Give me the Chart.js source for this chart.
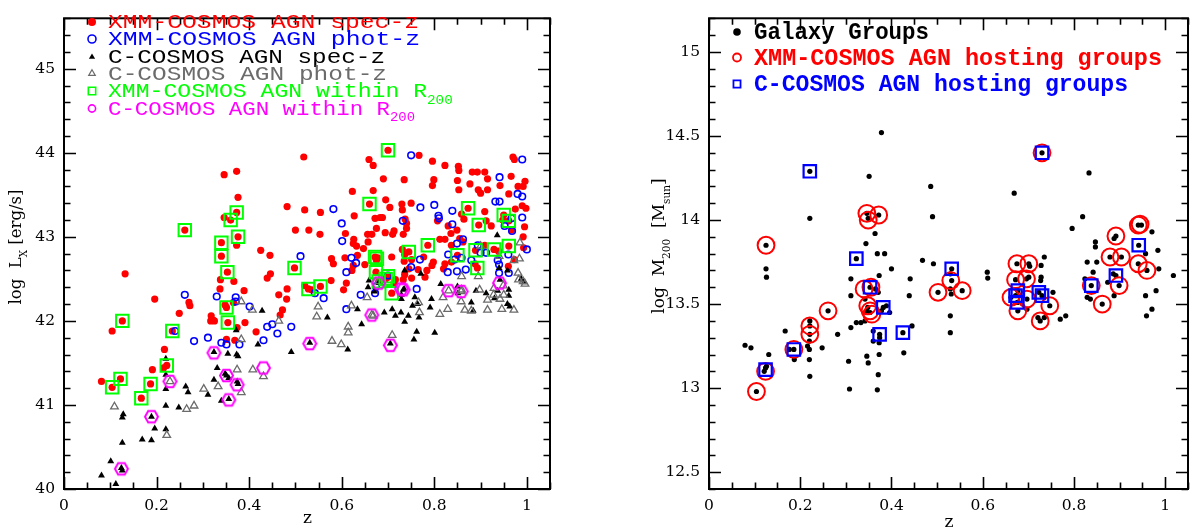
<!DOCTYPE html>
<html>
<head>
<meta charset="utf-8">
<script src="https://cdn.jsdelivr.net/npm/chart.js@4.4.1/dist/chart.umd.min.js"></script>
<style>
  html, body { margin: 0; padding: 0; background: #fff; }
  #wrap { position: relative; width: 1199px; height: 529px; overflow: hidden; }
  .box { position: absolute; top: 0; height: 529px; }
  #b1 { left: 0; width: 600px; }
  #b2 { left: 600px; width: 599px; }
</style>
</head>
<body>
<div id="wrap">
  <div class="box" id="b1"><canvas id="c1"></canvas></div>
  <div class="box" id="b2"><canvas id="c2"></canvas></div>
</div>
<script>
// painel esquerdo: z x log Lx  |  painel direito: z x log M200
const zTicks = [0, 0.2, 0.4, 0.6, 0.8, 1]
const lxTicks = [40, 41, 42, 43, 44, 45]
const mTicks = [12.5, 13, 13.5, 14, 14.5, 15]

const legendLeft = ['XMM-COSMOS AGN spec-z', 'XMM-COSMOS AGN phot-z', 'C-COSMOS AGN spec-z', 'C-COSMOS AGN phot-z', 'XMM-COSMOS AGN within R', 'C-COSMOS AGN within R']
const legendRight = ['Galaxy Groups', 'XMM-COSMOS AGN hosting groups', 'C-COSMOS AGN hosting groups']

// [z, log Lx]
const xmmSpecZ = [
  [0.518,43.95],[0.346,43.74],[0.373,43.78],[0.376,43.47],[0.373,43.29],[0.36,43.20],[0.346,43.23],[0.376,43.00],[0.373,42.90],
  [0.261,43.08],[0.34,42.93],[0.34,42.77],[0.353,42.58],[0.367,42.47],[0.338,42.49],[0.337,42.38],[0.132,42.56],
  [0.196,42.26],[0.27,42.22],[0.272,42.18],[0.249,42.09],[0.351,42.16],[0.348,42.19],[0.389,42.36],[0.366,42.22],
  [0.425,42.84],[0.445,42.78],[0.482,43.36],[0.52,43.32],[0.50,43.08],[0.446,42.56],[0.439,42.51],[0.498,42.63],
  [0.482,42.38],[0.464,42.31],[0.481,42.26],[0.472,42.13],[0.467,42.07],[0.529,43.08],[0.318,42.06],[0.322,42.01],
  [0.104,41.88],[0.126,42.00],[0.234,41.88],[0.217,41.66],[0.215,41.44],[0.222,41.47],[0.191,41.42],[0.122,41.31],
  [0.081,41.28],[0.104,41.21],[0.187,41.25],[0.167,41.08],[0.415,41.87],[0.351,41.78],[0.369,41.77],[0.317,42.0],
  [0.325,42.0],[0.354,41.98],[0.374,41.92],[0.391,41.98],
  [0.659,43.92],[0.668,43.85],[0.70,44.03],[0.767,43.97],[0.69,43.69],[0.735,43.68],[0.623,43.54],[0.668,43.55],
  [0.796,43.90],[0.799,43.68],[0.796,43.61],[0.823,43.85],[0.852,43.84],[0.853,43.79],[0.85,43.67],[0.882,43.77],
  [0.893,43.77],[0.909,43.77],[0.915,43.69],[0.877,43.63],[0.942,43.61],[0.966,43.72],[0.97,43.95],[0.973,43.92],
  [0.981,43.60],[0.996,43.66],[0.992,43.60],[0.961,43.51],[0.895,43.56],[0.90,43.52],[0.915,43.56],[0.853,43.56],
  [0.66,43.39],[0.695,43.44],[0.73,43.39],[0.75,43.40],[0.704,43.35],[0.731,43.32],[0.683,43.23],[0.672,43.22],
  [0.688,43.23],[0.675,43.10],[0.656,43.03],[0.627,43.25],[0.554,43.29],[0.553,43.03],[0.608,43.04],[0.626,42.97],
  [0.665,43.03],[0.657,42.94],[0.694,43.05],[0.713,43.07],[0.74,43.10],[0.737,43.21],[0.74,43.16],[0.71,43.03],
  [0.733,43.03],[0.632,42.89],[0.647,42.86],[0.625,42.92],[0.672,42.76],[0.678,42.75],[0.675,42.72],[0.708,42.76],
  [0.731,42.85],[0.736,42.79],[0.745,42.82],[0.735,42.71],[0.751,42.73],[0.777,42.76],[0.798,42.70],[0.786,42.90],
  [0.807,43.19],[0.812,42.97],[0.83,43.13],[0.836,43.04],[0.849,43.08],[0.873,43.34],[0.896,43.14],[0.859,43.27],
  [0.864,43.21],[0.909,43.30],[0.912,43.19],[0.923,43.13],[0.95,43.26],[0.961,43.19],[0.948,43.20],[0.967,43.08],
  [0.995,43.12],[0.992,43.00],[0.823,42.97],[0.837,42.90],[0.855,42.98],[0.862,42.94],[0.85,42.78],[0.889,42.84],
  [0.929,42.85],[0.961,42.89],[0.888,42.68],[0.893,42.63],[0.909,42.90],[0.939,42.83],[0.837,42.70],[0.823,42.68],
  [0.82,42.62],[0.795,42.66],[0.784,42.60],[0.78,42.52],[0.765,42.61],[0.745,42.62],[0.736,42.55],[0.733,42.49],
  [0.713,42.45],[0.70,42.52],[0.695,42.50],[0.674,42.58],[0.68,42.47],[0.65,42.67],[0.61,42.45],[0.604,42.37],
  [0.577,42.48],[0.554,42.41],[0.528,42.38],[0.52,42.42],[0.535,42.37],[0.578,42.74],[0.582,42.68],[0.607,42.75],
  [0.625,42.66],[0.622,42.60],[0.634,42.78],[0.708,42.33],[0.716,42.49],[0.751,42.51],[0.975,43.33],[0.99,43.37],
  [0.998,43.34],[0.993,42.87],[0.973,42.73],[0.96,42.65]
]
const xmmPhotZ = [
  [0.75,43.97],[0.99,43.92],[0.941,43.71],[0.932,43.42],[0.941,43.42],[0.98,43.51],[0.99,43.48],[0.99,43.23],
  [0.582,43.33],[0.77,43.35],[0.80,43.38],[0.809,43.25],[0.81,43.22],[0.839,43.31],[0.839,43.15],[0.732,43.19],
  [0.60,43.16],[0.601,42.95],[0.862,42.97],[0.621,42.75],[0.631,42.69],[0.61,42.58],[0.769,42.73],[0.75,42.64],
  [0.952,43.13],[1.0,42.85],[0.83,42.79],[0.844,42.73],[0.859,42.75],[0.868,42.61],[0.849,42.59],[0.829,42.58],
  [0.88,42.72],[0.90,42.81],[0.937,42.72],[0.94,42.67],[0.96,42.79],[0.961,42.57],[0.94,42.57],[0.912,42.81],
  [0.542,42.33],[0.561,42.27],[0.641,42.31],[0.672,42.33],[0.674,42.41],[0.70,42.54],[0.762,42.38],[0.61,42.14],
  [0.261,42.31],[0.33,42.29],[0.371,42.28],[0.371,42.23],[0.401,42.17],[0.511,42.77],[0.24,41.88],[0.281,41.76],
  [0.311,41.80],[0.34,41.74],[0.351,41.72],[0.379,41.72],[0.431,41.77],[0.439,41.93],[0.45,41.96],[0.461,41.85],
  [0.491,41.93],[0.967,43.22],[0.968,43.07],[0.849,42.92],[0.894,42.90]
]
const cSpecZ = [
  [0.372,41.89],[0.419,41.72],[0.491,41.63],[0.22,41.55],[0.22,41.36],[0.324,41.63],[0.354,41.61],[0.373,41.60],
  [0.376,41.58],[0.331,41.44],[0.324,41.30],[0.351,41.35],[0.356,41.32],[0.348,41.37],[0.374,41.28],[0.376,41.25],
  [0.34,41.05],[0.356,41.07],[0.311,41.12],[0.263,41.22],[0.268,41.15],[0.22,41.19],[0.22,40.99],[0.248,40.97],
  [0.128,40.89],[0.126,40.85],[0.196,40.72],[0.22,40.71],[0.169,40.59],[0.189,40.58],[0.126,40.55],[0.101,40.33],
  [0.081,40.16],[0.112,40.06],[0.124,40.25],[0.126,40.22],[0.189,40.86],
  [0.736,42.60],[0.771,42.56],[0.659,42.48],[0.657,42.40],[0.68,42.45],[0.671,42.35],[0.735,42.38],[0.729,42.31],
  [0.729,42.26],[0.758,42.28],[0.794,42.26],[0.814,42.44],[0.85,42.41],[0.851,42.33],[0.89,42.36],[0.912,42.33],
  [0.93,42.27],[0.937,42.36],[0.961,42.37],[0.961,42.30],[0.958,42.20],[0.963,42.17],[0.942,42.49],[0.958,42.60],
  [0.94,42.63],[0.884,42.12],[0.88,42.22],[0.709,42.14],[0.692,42.10],[0.728,42.10],[0.744,42.06],[0.736,41.99],
  [0.716,42.06],[0.753,42.18],[0.764,42.20],[0.767,42.04],[0.791,42.16],[0.762,41.87],[0.756,41.78],[0.801,41.86],
  [0.643,41.96],[0.634,42.14],[0.569,42.04],[0.531,41.74],[0.613,41.66],[0.705,41.73],[0.994,42.46],[0.988,42.50],
  [0.428,42.12],[0.936,43.02],[0.733,42.37]
]
const cPhotZ = [
  [0.464,42.0],[0.383,41.78],[0.374,41.42],[0.333,41.22],[0.302,41.19],[0.383,41.15],[0.281,40.99],[0.265,40.95],
  [0.229,41.28],[0.109,40.98],[0.222,40.64],[0.408,41.42],[0.431,41.34],[0.383,42.23],[0.407,42.13],
  [0.549,42.17],[0.546,42.05],[0.621,42.18],[0.655,42.28],[0.668,42.06],[0.614,41.93],[0.614,41.86],[0.709,41.83],
  [0.579,41.76],[0.599,41.72],[0.768,42.10],[0.766,42.22],[0.812,42.08],[0.819,42.28],[0.829,42.14],[0.859,42.37],
  [0.858,42.23],[0.866,42.13],[0.88,42.12],[0.915,42.25],[0.915,42.13],[0.942,42.26],[0.929,42.39],[0.95,42.31],
  [0.972,42.13],[0.981,42.57],[0.982,42.49],[0.992,42.47],[0.996,42.44],[0.898,42.37],[0.895,42.53],[0.859,42.53],
  [0.946,42.14],[0.928,42.31],[0.949,42.42],[0.972,42.72],[0.985,42.93],[0.984,42.74],[0.94,42.77],[0.90,42.89],
  [0.831,42.36],[0.858,42.35],[0.665,42.07],[0.68,42.47]
]
const xmmInR200 = [
  [0.261,43.08],[0.373,43.29],[0.36,43.20],[0.376,43.00],[0.34,42.93],[0.34,42.77],[0.353,42.58],[0.351,42.16],
  [0.354,41.98],[0.126,42.00],[0.234,41.88],[0.222,41.47],[0.122,41.31],[0.104,41.21],[0.187,41.25],[0.167,41.08],
  [0.498,42.63],[0.528,42.38],[0.554,42.41],[0.66,43.39],[0.70,44.03],[0.672,42.76],[0.676,42.74],[0.674,42.58],
  [0.68,42.47],[0.695,42.50],[0.70,42.53],[0.708,42.33],[0.745,42.82],[0.786,42.90],[0.873,43.34],[0.896,43.14],
  [0.95,43.26],[0.961,43.19],[0.85,42.78],[0.889,42.84],[0.929,42.85],[0.961,42.89],[0.893,42.63]
]
const cInR200 = [
  [0.124,40.24],[0.189,40.86],[0.229,41.28],[0.324,41.62],[0.351,41.35],[0.374,41.24],[0.356,41.06],[0.431,41.44],
  [0.531,41.73],[0.705,41.71],[0.665,42.07],[0.68,42.45],[0.729,42.38],[0.733,42.37],[0.831,42.36],[0.858,42.35],
  [0.941,42.45]
]

// [z, log M200]
const galaxyGroups = [
  [0.378,14.52],[0.221,14.29],[0.351,14.26],[0.221,14.01],[0.346,14.04],[0.349,14.01],[0.372,14.03],[0.364,13.92],
  [0.344,13.86],[0.125,13.85],[0.323,13.77],[0.369,13.80],[0.385,13.80],[0.125,13.71],[0.126,13.66],[0.40,13.71],
  [0.311,13.65],[0.311,13.55],[0.373,13.67],[0.353,13.60],[0.365,13.59],[0.371,13.57],[0.441,13.65],[0.439,13.55],
  [0.502,13.57],[0.468,13.76],[0.492,13.74],[0.486,14.20],[0.49,14.02],[0.348,13.48],[0.353,13.45],[0.345,13.46],
  [0.382,13.48],[0.389,13.49],[0.378,13.46],[0.396,13.45],[0.342,13.53],[0.261,13.46],[0.221,13.40],[0.221,13.37],
  [0.221,13.32],[0.22,13.28],[0.216,13.25],[0.22,13.23],[0.22,13.17],[0.221,13.07],[0.167,13.34],[0.282,13.32],
  [0.323,13.39],[0.333,13.39],[0.342,13.40],[0.311,13.36],[0.374,13.32],[0.36,13.34],[0.373,13.27],[0.374,13.30],
  [0.36,13.28],[0.445,13.37],[0.425,13.33],[0.248,13.24],[0.186,13.23],[0.176,13.23],[0.187,13.17],[0.079,13.255],
  [0.092,13.24],[0.131,13.20],[0.346,13.19],[0.349,13.15],[0.373,13.20],[0.306,13.16],[0.427,13.21],[0.124,13.12],
  [0.121,13.10],[0.126,13.13],[0.104,12.98],[0.308,12.995],[0.369,12.99],[0.371,13.08],[0.529,13.43],[0.529,13.33],
  [0.73,14.40],[0.833,14.28],[0.669,14.16],[0.819,14.02],[0.796,13.95],[0.532,13.71],[0.529,13.68],[0.532,13.64],
  [0.529,13.59],[0.531,13.56],[0.555,13.58],[0.61,13.69],[0.611,13.655],[0.675,13.74],[0.701,13.74],[0.703,13.725],
  [0.728,13.73],[0.735,13.78],[0.672,13.645],[0.696,13.65],[0.701,13.66],[0.728,13.66],[0.727,13.64],[0.677,13.58],
  [0.672,13.55],[0.676,13.51],[0.662,13.54],[0.697,13.53],[0.677,13.46],[0.697,13.47],[0.723,13.57],[0.73,13.55],
  [0.754,13.57],[0.747,13.49],[0.726,13.40],[0.721,13.42],[0.735,13.42],[0.77,13.41],[0.782,13.43],[0.838,13.61],
  [0.829,13.75],[0.85,13.75],[0.847,13.87],[0.847,13.84],[0.842,13.69],[0.824,13.65],[0.829,13.54],[0.836,13.53],
  [0.862,13.50],[0.892,13.905],[0.888,13.89],[0.879,13.78],[0.904,13.78],[0.892,13.67],[0.886,13.68],[0.874,13.63],
  [0.899,13.61],[0.888,13.55],[0.941,13.97],[0.948,13.97],[0.971,13.93],[0.942,13.85],[0.957,13.80],[0.984,13.82],
  [0.941,13.74],[0.96,13.70],[0.986,13.71],[0.98,13.58],[0.957,13.55],[0.971,13.47],[0.959,13.43],[1.018,13.67]
]
const xmmHosts = [
  [0.104,12.98],[0.124,13.10],[0.125,13.85],[0.186,13.23],[0.221,13.37],[0.221,13.32],[0.261,13.46],[0.346,14.04],
  [0.349,14.00],[0.372,14.03],[0.34,13.59],[0.355,13.60],[0.348,13.49],[0.353,13.46],[0.357,13.44],[0.502,13.57],
  [0.53,13.64],[0.555,13.58],[0.675,13.74],[0.701,13.74],[0.672,13.645],[0.696,13.65],[0.662,13.54],[0.697,13.53],
  [0.677,13.46],[0.747,13.49],[0.726,13.40],[0.73,14.40],[0.838,13.61],[0.862,13.50],[0.892,13.905],[0.879,13.78],
  [0.904,13.78],[0.899,13.61],[0.941,13.97],[0.945,13.975],[0.941,13.74],[0.96,13.70]
]
const cHosts = [
  [0.124,13.11],[0.186,13.23],[0.221,14.29],[0.323,13.77],[0.353,13.60],[0.382,13.48],[0.374,13.32],[0.425,13.33],
  [0.532,13.71],[0.677,13.58],[0.672,13.55],[0.676,13.51],[0.723,13.57],[0.73,13.55],[0.73,14.40],[0.838,13.61],
  [0.892,13.67],[0.942,13.85]
]

const pts = arr => arr.map(p => ({ x: p[0], y: p[1] }))

function hexMarker(color, r, lw) {
  const c = document.createElement('canvas')
  const s = Math.ceil(2 * r + lw + 2)
  c.width = s; c.height = s
  const g = c.getContext('2d')
  g.strokeStyle = color; g.lineWidth = lw
  g.beginPath()
  for (let i = 0; i < 6; i++) {
    const a = Math.PI / 3 * i
    const px = s / 2 + r * Math.cos(a), py = s / 2 + r * Math.sin(a)
    if (i) g.lineTo(px, py); else g.moveTo(px, py)
  }
  g.closePath(); g.stroke()
  return c
}

function marker(ctx, style, r, fill, stroke, lw, x, y) {
  ctx.save()
  ctx.fillStyle = fill || 'rgba(0,0,0,0)'
  ctx.strokeStyle = stroke || 'rgba(0,0,0,0)'
  ctx.lineWidth = lw
  Chart.helpers.drawPoint(ctx, { pointStyle: style, radius: r, rotation: 0, borderWidth: lw }, x, y)
  ctx.restore()
}

// texto com partes em subscrito. o = {align, weight, sy (escala vertical), width (largura alvo do texto principal)}
function richText(ctx, parts, x, y, size, o) {
  o = o || {}
  const weight = o.weight || 'normal'
  const sy = o.sy || 1
  const fnt = p => weight + ' ' + (p.sub ? size * 0.62 : size) + 'px ' + p.f
  let w = 0, wMain = 0
  parts.forEach(p => {
    ctx.font = fnt(p)
    const m = ctx.measureText(p.t).width
    w += m
    if (!p.sub) wMain += m
  })
  const sx = o.width ? o.width / wMain : 1
  const start = o.align === 'center' ? -w * sx / 2 : 0
  ctx.save()
  ctx.translate(x + start, y)
  ctx.scale(sx, sy)
  let cx = 0
  parts.forEach(p => {
    ctx.font = fnt(p)
    ctx.fillText(p.t, cx, p.sub ? size * 0.42 : 0)
    cx += ctx.measureText(p.t).width
  })
  ctx.restore()
}

function ticksPlugin(xMinor, yMinor, xMajor, yMajor) {
  return {
    id: 'frame',
    afterDatasetsDraw(chart) {
      const { ctx, chartArea: a, scales: { x, y } } = chart
      ctx.save()
      ctx.strokeStyle = '#000'
      ctx.lineWidth = 1.6
      ctx.beginPath()
      const isMajor = (v, list) => list.some(m => Math.abs(m - v) < 1e-6)
      for (let v = Math.ceil(x.min / xMinor - 1e-6) * xMinor; v <= x.max + 1e-6; v += xMinor) {
        const px = Math.round(x.getPixelForValue(v)) + 0.5
        const len = isMajor(v, xMajor) ? 12 : 6.5
        ctx.moveTo(px, a.bottom); ctx.lineTo(px, a.bottom - len)
        ctx.moveTo(px, a.top); ctx.lineTo(px, a.top + len)
      }
      for (let v = Math.ceil(y.min / yMinor - 1e-6) * yMinor; v <= y.max + 1e-6; v += yMinor) {
        const py = Math.round(y.getPixelForValue(v)) + 0.5
        const len = isMajor(v, yMajor) ? 12 : 6.5
        ctx.moveTo(a.left, py); ctx.lineTo(a.left + len, py)
        ctx.moveTo(a.right, py); ctx.lineTo(a.right - len, py)
      }
      ctx.stroke()
      ctx.lineWidth = 2
      ctx.strokeRect(a.left, a.top, a.right - a.left, a.bottom - a.top)
      ctx.restore()
    }
  }
}

Chart.defaults.font.family = '"DejaVu Serif", serif'
Chart.defaults.font.size = 15.5
Chart.defaults.color = '#000'
Chart.defaults.animation = false

function axes(yMin, yMax, yTicks, yWidth) {
  return {
    x: {
      type: 'linear', min: 0, max: 1.05,
      grid: { display: false, drawTicks: false }, border: { display: false },
      afterBuildTicks: s => { s.ticks = zTicks.map(v => ({ value: v })) },
      ticks: { padding: 8, callback: v => String(v), maxRotation: 0 },
      afterFit: s => { s.height = 40 }
    },
    y: {
      type: 'linear', min: yMin, max: yMax,
      grid: { display: false, drawTicks: false }, border: { display: false },
      afterBuildTicks: s => { s.ticks = yTicks.map(v => ({ value: v })) },
      ticks: { padding: 9, callback: v => String(v) },
      afterFit: s => { s.width = yWidth }
    }
  }
}

const MONO = '"Liberation Mono", "Courier New", monospace'
const SERIF = '"DejaVu Serif", serif'

// ---------- painel esquerdo ----------
const hexMag = hexMarker('#ff00ff', 6.5, 2)
new Chart(document.getElementById('c1'), {
  type: 'scatter',
  data: {
    datasets: [
      { data: pts(cInR200), pointStyle: hexMag, pointRadius: 7, order: 1 },
      { data: pts(xmmInR200), pointStyle: 'rect', pointRadius: 8.8, pointBackgroundColor: 'rgba(0,0,0,0)', pointBorderColor: '#00ff00', pointBorderWidth: 2, order: 2 },
      { data: pts(cPhotZ), pointStyle: 'triangle', pointRadius: 4.4, pointBackgroundColor: 'rgba(0,0,0,0)', pointBorderColor: '#6b6b6b', pointBorderWidth: 1.3, order: 3 },
      { data: pts(cSpecZ), pointStyle: 'triangle', pointRadius: 4, pointBackgroundColor: '#000', pointBorderColor: '#000', pointBorderWidth: 0, order: 4 },
      { data: pts(xmmPhotZ), pointStyle: 'circle', pointRadius: 3.3, pointBackgroundColor: 'rgba(0,0,0,0)', pointBorderColor: '#0000ff', pointBorderWidth: 1.6, order: 5 },
      { data: pts(xmmSpecZ), pointStyle: 'circle', pointRadius: 3.6, pointBackgroundColor: '#ff0000', pointBorderColor: '#ff0000', pointBorderWidth: 0, order: 6 }
    ]
  },
  options: {
    responsive: true, maintainAspectRatio: false, events: [],
    layout: { padding: { top: 3, right: 50, left: 0, bottom: 0 } },
    scales: axes(40, 45.6, lxTicks, 64),
    plugins: { legend: { display: false }, tooltip: { enabled: false } }
  },
  plugins: [ticksPlugin(0.05, 0.2, zTicks, lxTicks), {
    id: 'labels1',
    afterDraw(chart) {
      const { ctx, chartArea: a } = chart
      ctx.save()
      ctx.textBaseline = 'middle'
      ctx.fillStyle = '#000'
      ctx.textAlign = 'left'
      // titulo do eixo x
      ctx.font = '17px ' + SERIF
      ctx.fillText('z', (a.left + a.right) / 2 - 4, 519)
      // titulo do eixo y (rotacionado)
      ctx.translate(17, 247)
      ctx.rotate(-Math.PI / 2)
      richText(ctx, [{ t: 'log  L', f: SERIF }, { t: 'X', f: SERIF, sub: true }, { t: ' [erg/s]', f: SERIF }], 0, 0, 16.5, { align: 'center' })
      ctx.restore()

      // legenda (larguras medidas na figura)
      const rows = [22, 39, 57, 73.5, 91, 108.5]
      const widths = [311, 312, 277, 279, 319, 282]
      const colors = ['#ff0000', '#0000ff', '#000000', '#6b6b6b', '#00ff00', '#ff00ff']
      marker(ctx, 'circle', 4, '#ff0000', null, 0, 92, rows[0])
      marker(ctx, 'circle', 4, null, '#0000ff', 1.6, 92, rows[1])
      marker(ctx, 'triangle', 3.6, '#000', null, 0, 92, rows[2])
      marker(ctx, 'triangle', 3.8, null, '#6b6b6b', 1.2, 92, rows[3])
      marker(ctx, 'rect', 5.2, null, '#00ff00', 1.6, 92, rows[4])
      marker(ctx, 'circle', 3.6, null, '#ff00ff', 1.6, 92, rows[5])
      ctx.save()
      ctx.textBaseline = 'middle'
      legendLeft.forEach((t, i) => {
        ctx.fillStyle = colors[i]
        const parts = [{ t: t, f: MONO }]
        if (i >= 4) parts.push({ t: '200', f: MONO, sub: true })
        richText(ctx, parts, 108, rows[i] + 1, 24, { sy: 0.85, width: widths[i] })
      })
      ctx.restore()
    }
  }]
})

// ---------- painel direito ----------
new Chart(document.getElementById('c2'), {
  type: 'scatter',
  data: {
    datasets: [
      { data: pts(cHosts), pointStyle: 'rect', pointRadius: 8.8, pointBackgroundColor: 'rgba(0,0,0,0)', pointBorderColor: '#0000ff', pointBorderWidth: 2.2, order: 1 },
      { data: pts(xmmHosts), pointStyle: 'circle', pointRadius: 8.4, pointBackgroundColor: 'rgba(0,0,0,0)', pointBorderColor: '#ff0000', pointBorderWidth: 2, order: 2 },
      { data: pts(galaxyGroups), pointStyle: 'circle', pointRadius: 2.6, pointBackgroundColor: '#000', pointBorderColor: '#000', pointBorderWidth: 0, order: 3 }
    ]
  },
  options: {
    responsive: true, maintainAspectRatio: false, events: [],
    layout: { padding: { top: 3, right: 2, left: 0, bottom: 0 } },
    scales: axes(12.4, 15.2, mTicks, 109),
    plugins: { legend: { display: false }, tooltip: { enabled: false } }
  },
  plugins: [ticksPlugin(0.05, 0.1, zTicks, mTicks), {
    id: 'labels2',
    afterDraw(chart) {
      const { ctx, chartArea: a } = chart
      ctx.save()
      ctx.textBaseline = 'middle'
      ctx.fillStyle = '#000'
      ctx.textAlign = 'left'
      ctx.font = '17px ' + SERIF
      ctx.fillText('z', (a.left + a.right) / 2 - 4, 523)
      ctx.translate(60, 246)
      ctx.rotate(-Math.PI / 2)
      richText(ctx, [{ t: 'log  M', f: SERIF }, { t: '200', f: SERIF, sub: true }, { t: '  [M', f: SERIF }, { t: 'sun', f: SERIF, sub: true }, { t: ']', f: SERIF }], 0, 0, 17, { align: 'center' })
      ctx.restore()

      const rows = [32, 57.5, 84]
      const widths = [175, 408, 374]
      const colors = ['#000000', '#ff0000', '#0000ff']
      marker(ctx, 'circle', 3.8, '#000', null, 0, 137, rows[0])
      marker(ctx, 'circle', 4, null, '#ff0000', 1.8, 137, rows[1])
      marker(ctx, 'rect', 5, null, '#0000ff', 1.8, 137, rows[2])
      ctx.save()
      ctx.textBaseline = 'middle'
      legendRight.forEach((t, i) => {
        ctx.fillStyle = colors[i]
        richText(ctx, [{ t: t, f: MONO }], 154, rows[i] + 1, 24, { weight: 'bold', sy: 1.02, width: widths[i] })
      })
      ctx.restore()
    }
  }]
})
</script>
</body>
</html>
